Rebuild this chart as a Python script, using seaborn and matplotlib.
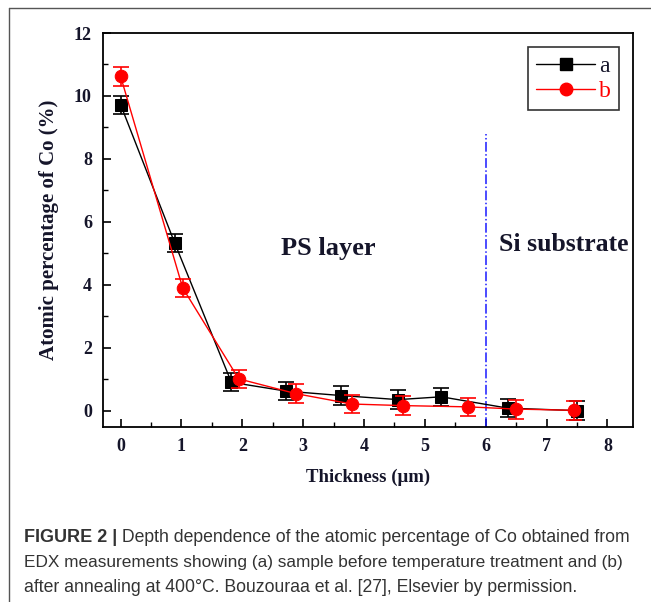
import numpy as np
import pandas as pd
import matplotlib
matplotlib.use("Agg")
import matplotlib.pyplot as plt
from matplotlib.lines import Line2D
from matplotlib.ticker import MultipleLocator
import seaborn as sns

# ---- data ----
thickness_a = [0.0, 0.89, 1.82, 2.72, 3.62, 4.56, 5.27, 6.36, 7.50]
co_a = [9.72, 5.32, 0.90, 0.62, 0.48, 0.35, 0.44, 0.08, 0.00]
err_a = [0.29, 0.29, 0.29, 0.29, 0.30, 0.29, 0.28, 0.28, 0.30]

thickness_b = [0.0, 1.02, 1.94, 2.88, 3.80, 4.64, 5.71, 6.49, 7.45]
co_b = [10.62, 3.90, 1.01, 0.54, 0.21, 0.16, 0.12, 0.05, 0.01]
err_b = [0.29, 0.29, 0.29, 0.30, 0.29, 0.29, 0.29, 0.30, 0.30]

series_labels = ["a", "b"]
x_ticks = [0, 1, 2, 3, 4, 5, 6, 7, 8]
y_ticks = [0, 2, 4, 6, 8, 10, 12]
boundary_x = 6.0
boundary_top = 8.8

caption_bold = "FIGURE 2 |"
caption_lines = [
    " Depth dependence of the atomic percentage of Co obtained from",
    "EDX measurements showing (a) sample before temperature treatment and (b)",
    "after annealing at 400\u00b0C. Bouzouraa et al. [27], Elsevier by permission.",
]

df = pd.concat([
    pd.DataFrame({"x": thickness_a, "y": co_a, "err": err_a, "s": "a"}),
    pd.DataFrame({"x": thickness_b, "y": co_b, "err": err_b, "s": "b"}),
])

sns.set_theme(style="white")
plt.rcParams["font.family"] = ["Liberation Serif", "DejaVu Serif"]
plt.rcParams["mathtext.fontset"] = "stix"

fig = plt.figure(figsize=(6.51, 6.02), dpi=100)
ax = fig.add_axes([103 / 651, 1 - 427 / 602, (633 - 103) / 651, (427 - 33) / 602])

txt_col = "#15152a"
colors = {"a": "black", "b": "#ff0000"}
markers = {"a": "s", "b": "o"}

for s in series_labels:
    d = df[df["s"] == s]
    ax.errorbar(d["x"], d["y"], yerr=d["err"], fmt="none", ecolor=colors[s],
                elinewidth=1.2, capsize=6, capthick=1.2, zorder=2 if s == "a" else 4)
    sns.lineplot(data=d, x="x", y="y", color=colors[s], marker=markers[s],
                 markersize=9, markeredgecolor=colors[s], linewidth=1.0,
                 ax=ax, legend=False, sort=False, estimator=None,
                 zorder=3 if s == "a" else 5)

ax.plot([boundary_x, boundary_x], [-0.52, boundary_top], color="#1a1aff",
        linestyle="-.", linewidth=1.1, zorder=1)

ax.text(3.41, 5.15, "PS layer", fontsize=19, fontweight="bold", color=txt_col,
        ha="center", va="center")
ax.text(7.29, 5.29, "Si substrate", fontsize=18.5, fontweight="bold", color=txt_col,
        ha="center", va="center")

ax.set_xlim(-0.29, 8.42)
ax.set_ylim(-0.52, 12.0)
ax.set_xticks(x_ticks)
ax.set_yticks(y_ticks)
ax.xaxis.set_minor_locator(MultipleLocator(0.5))
ax.yaxis.set_minor_locator(MultipleLocator(1))
ax.tick_params(which="major", direction="in", length=6, width=1.2, color="black",
               labelsize=13, labelcolor=txt_col, bottom=True, left=True, pad=8)
ax.tick_params(which="minor", direction="in", length=3.5, width=1.0, color="black",
               bottom=True, left=True)
for lab in ax.get_xticklabels() + ax.get_yticklabels():
    lab.set_fontweight("bold")
for sp in ax.spines.values():
    sp.set_color("black")
    sp.set_linewidth(1.3)

ax.set_xlabel("Thickness (\u03bcm)", fontsize=13.5, fontweight="bold", color=txt_col, labelpad=10)
ax.set_ylabel("Atomic percentage of Co (%)", fontsize=15, fontweight="bold", color=txt_col, labelpad=11)

handles = [Line2D([], [], color=colors[s], marker=markers[s], markersize=9, linewidth=1.0)
           for s in series_labels]
leg = ax.legend(handles, series_labels, loc="upper right", fontsize=17,
                handlelength=2.5, handletextpad=0.15, frameon=True, fancybox=False,
                borderaxespad=0.6, borderpad=0.35, labelspacing=0.15)
leg.get_frame().set_edgecolor("black")
leg.get_frame().set_linewidth(1.2)
for t, s in zip(leg.get_texts(), series_labels):
    t.set_color(txt_col if s == "a" else "#ff0000")

# outer frame lines (left and top)
fig.add_artist(Line2D([9 / 651, 9 / 651], [0, 1 - 8 / 602], transform=fig.transFigure,
                      color="#555555", linewidth=1.0))
fig.add_artist(Line2D([9 / 651, 1], [1 - 8 / 602, 1 - 8 / 602], transform=fig.transFigure,
                      color="#555555", linewidth=1.0))

# caption
cap_font = ["Liberation Sans", "DejaVu Sans"]
cap_col = "#333333"
t0 = fig.text(24 / 651, 1 - 538 / 602, caption_bold, fontsize=13, fontweight="bold",
              family=cap_font, color=cap_col, va="center", ha="left")
fig.canvas.draw()
bb = t0.get_window_extent()
fig.text(bb.x1 / fig.bbox.width, 1 - 538 / 602, caption_lines[0], fontsize=12.7,
         family=cap_font, color=cap_col, va="center", ha="left")
fig.text(24 / 651, 1 - 562 / 602, caption_lines[1], fontsize=12.4,
         family=cap_font, color=cap_col, va="center", ha="left")
fig.text(24 / 651, 1 - 587 / 602, caption_lines[2], fontsize=12.7,
         family=cap_font, color=cap_col, va="center", ha="left")

fig.savefig("out.png", dpi=100)
